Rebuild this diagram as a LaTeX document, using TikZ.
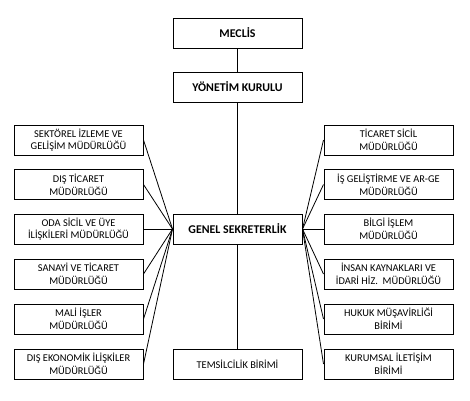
\documentclass[tikz,border=0pt]{standalone}
\usepackage{fontspec}
\setmainfont{Carlito}
\begin{document}
\begin{tikzpicture}[x=0.75pt,y=-0.75pt,
  box/.style={draw=black,line width=0.75pt,minimum width=96.75pt,minimum height=22.5pt,inner sep=1pt,align=center,font=\fontsize{7.8}{9.5}\selectfont},
  mainbox/.style={box,font=\fontsize{8.9}{10}\selectfont\bfseries},
  conn/.style={draw=black,line width=0.6pt}]
\useasboundingbox[fill=white] (0,0) rectangle (470,400);
\node[mainbox] (meclis) at (237.5,33) {MECLİS};
\node[mainbox] (yonetim) at (237.5,87) {YÖNETİM KURULU};
\node[mainbox] (genel) at (237.5,229) {GENEL SEKRETERLİK};
\node[box] (temsil) at (237.5,364) {TEMSİLCİLİK BİRİMİ};
\node[box] (l1) at (78.5,140) {SEKTÖREL İZLEME VE\\GELİŞİM MÜDÜRLÜĞÜ};
\node[box] (l2) at (78.5,184.5) {DIŞ TİCARET\\MÜDÜRLÜĞÜ};
\node[box] (l3) at (78.5,229) {ODA SİCİL VE ÜYE\\İLİŞKİLERİ MÜDÜRLÜĞÜ};
\node[box] (l4) at (78.5,274) {SANAYİ VE TİCARET\\MÜDÜRLÜĞÜ};
\node[box] (l5) at (78.5,319) {MALİ İŞLER\\MÜDÜRLÜĞÜ};
\node[box] (l6) at (78.5,364) {DIŞ EKONOMİK İLİŞKİLER\\MÜDÜRLÜĞÜ};
\node[box] (r1) at (388.5,140) {TİCARET SİCİL\\MÜDÜRLÜĞÜ};
\node[box] (r2) at (388.5,184.5) {İŞ GELİŞTİRME VE AR-GE\\MÜDÜRLÜĞÜ};
\node[box] (r3) at (388.5,229) {BİLGİ İŞLEM\\MÜDÜRLÜĞÜ};
\node[box] (r4) at (388.5,274) {İNSAN KAYNAKLARI VE\\İDARİ HİZ.~ MÜDÜRLÜĞÜ};
\node[box] (r5) at (388.5,319) {HUKUK MÜŞAVİRLİĞİ\\BİRİMİ};
\node[box] (r6) at (388.5,364) {KURUMSAL İLETİŞİM\\BİRİMİ};
\draw[conn] (meclis) -- (yonetim);
\draw[conn] (yonetim) -- (genel);
\draw[conn] (genel) -- (temsil);
\foreach \i in {1,...,6} {
  \draw[conn] (genel.west) -- (l\i.east);
  \draw[conn] (genel.east) -- (r\i.west);
}
\end{tikzpicture}
\end{document}
